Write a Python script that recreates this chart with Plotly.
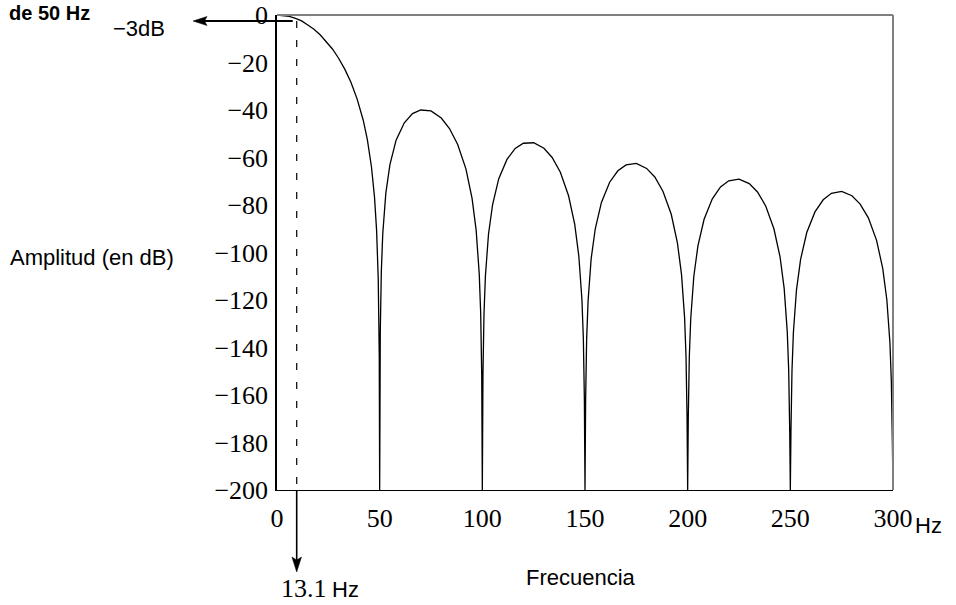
import plotly.graph_objects as go

# ---- data (frequency in Hz, amplitude in dB) ----
main_lobe_f = [0, 3, 6, 9, 12, 15, 18, 21, 24, 27, 30, 33, 36, 39, 42, 44, 46, 47.5, 48.5, 49.3, 49.8]
main_lobe_db = [0, -0.2, -0.6, -1.4, -2.5, -4.2, -6.0, -8.3, -11.1, -14.3, -18.2, -22.8, -28.3, -35.3, -44.3, -52.5, -63.9, -76.8, -90.6, -110.9, -143.8]

lobe1_f = [50.3, 50.8, 51.5, 53, 55, 58, 62, 66, 70, 75, 80, 84, 88, 92, 95, 97, 98.5, 99.2, 99.7]
lobe1_db = [-133.5, -108.2, -92.2, -75.0, -63.0, -52.7, -45.4, -41.5, -40.0, -40.4, -43.4, -47.8, -54.5, -64.8, -77.2, -90.7, -109.1, -125.6, -151.4]

lobe2_f = [100.3, 100.8, 101.5, 103, 105, 108, 112, 116, 120, 125, 130, 134, 138, 142, 145, 147, 148.5, 149.2, 149.7]
lobe2_db = [-151.5, -126.0, -109.9, -92.3, -79.8, -68.9, -60.8, -56.2, -54.0, -53.8, -56.1, -60.0, -66.2, -76.1, -88.2, -101.6, -119.8, -136.3, -162.0]

lobe3_f = [150.3, 150.8, 151.5, 153, 155, 158, 162, 166, 170, 175, 180, 184, 188, 192, 195, 197, 198.5, 199.2, 199.7]
lobe3_db = [-162.1, -136.5, -120.4, -102.6, -90.0, -78.9, -70.4, -65.6, -63.1, -62.5, -64.6, -68.2, -74.3, -83.9, -95.9, -109.2, -127.4, -143.8, -169.5]

lobe4_f = [200.3, 200.8, 201.5, 203, 205, 208, 212, 216, 220, 225, 230, 234, 238, 242, 245, 247, 248.5, 249.2, 249.7]
lobe4_db = [-169.5, -144.0, -127.8, -110.0, -97.2, -86.0, -77.4, -72.4, -69.8, -69.1, -71.0, -74.5, -80.4, -90.0, -101.9, -115.1, -133.3, -149.6, -175.3]

lobe5_f = [250.3, 250.8, 251.5, 253, 255, 258, 262, 266, 270, 275, 280, 284, 288, 292, 295, 297, 298.5, 299.2, 299.7]
lobe5_db = [-175.4, -149.8, -133.6, -115.7, -102.9, -91.6, -82.9, -77.8, -75.1, -74.3, -76.1, -79.6, -85.4, -94.9, -106.7, -119.9, -138.0, -154.4, -180.0]

null_f = [50, 100, 150, 200, 250, 300]
null_db = [-200, -200, -200, -200, -200, -200]

x_tick_vals = [0, 50, 100, 150, 200, 250, 300]
x_tick_text = ["0", "50", "100", "150", "200", "250", "300"]
y_tick_vals = [-200, -180, -160, -140, -120, -100, -80, -60, -40, -20, 0]
y_tick_text = ["\u2212200", "\u2212180", "\u2212160", "\u2212140", "\u2212120", "\u2212100",
               "\u221280", "\u221260", "\u221240", "\u221220", "0"]

cutoff_label_value = "13.1"
cutoff_marker_f = 9.6      # where the dashed marker is drawn in the picture
cutoff_marker_db = -2.5

# ---- assemble the curve ----
lobes = [(lobe1_f, lobe1_db), (lobe2_f, lobe2_db), (lobe3_f, lobe3_db),
         (lobe4_f, lobe4_db), (lobe5_f, lobe5_db)]
xs = list(main_lobe_f)
ys = list(main_lobe_db)
for i, (lf, ld) in enumerate(lobes):
    xs.append(null_f[i]); ys.append(null_db[i])
    xs += lf; ys += ld
xs.append(null_f[-1]); ys.append(null_db[-1])

# ---- layout geometry ----
W, H = 956, 605
L, R, T, B = 277, 63, 15, 115
PW, PH = W - L - R, H - T - B


def px(x):
    return (x - L) / PW


def py(y):
    return (H - B - y) / PH


fig = go.Figure()
fig.add_trace(go.Scatter(x=xs, y=ys, mode="lines",
                         line=dict(color="black", width=1.3),
                         hoverinfo="skip"))

serif = "Liberation Serif, Times New Roman, serif"
sans = "Liberation Sans, Arial, sans-serif"

fig.update_layout(
    width=W, height=H,
    margin=dict(l=L, r=R, t=T, b=B, autoexpand=False),
    plot_bgcolor="white", paper_bgcolor="white",
    showlegend=False,
    xaxis=dict(range=[0, 300], tickvals=x_tick_vals, ticktext=x_tick_text,
               showgrid=False, zeroline=False, showline=True, automargin=False,
               linecolor="black", linewidth=1.3, ticks="",
               ticklabelstandoff=5,
               tickfont=dict(family=serif, size=26, color="black")),
    yaxis=dict(range=[-200, 0], tickvals=y_tick_vals, ticktext=y_tick_text,
               showgrid=False, zeroline=False, showline=True, automargin=False,
               linecolor="black", linewidth=1.5, ticks="",
               ticklabelstandoff=2,
               tickfont=dict(family=serif, size=26, color="black")),
)

shapes = []
# gray top and right frame
shapes.append(dict(type="line", xref="paper", yref="paper", x0=0, x1=1, y0=1, y1=1,
                   line=dict(color="#808080", width=2)))
shapes.append(dict(type="line", xref="paper", yref="paper", x0=1, x1=1, y0=0, y1=1,
                   line=dict(color="#808080", width=2)))
# dashed marker line
shapes.append(dict(type="line", xref="x", yref="y",
                   x0=cutoff_marker_f, x1=cutoff_marker_f, y0=cutoff_marker_db, y1=-200,
                   line=dict(color="black", width=1.2, dash="7px,12px")))
# -3 dB arrow (shaft + head)
ya = 21
shapes.append(dict(type="line", xref="paper", yref="paper",
                   x0=px(292.7), x1=px(204), y0=py(ya), y1=py(ya),
                   line=dict(color="black", width=1.8)))
shapes.append(dict(type="path", xref="paper", yref="paper",
                   path=f"M {px(193)},{py(ya)} L {px(207)},{py(ya-4.5)} L {px(204.5)},{py(ya)} L {px(207)},{py(ya+4.5)} Z",
                   fillcolor="black", line=dict(color="black", width=0.5)))
# downward arrow below the axis
xv = 296.7
shapes.append(dict(type="line", xref="paper", yref="paper",
                   x0=px(xv), x1=px(xv), y0=py(490), y1=py(560),
                   line=dict(color="black", width=1.6)))
shapes.append(dict(type="path", xref="paper", yref="paper",
                   path=f"M {px(xv)},{py(572)} L {px(xv-4.8)},{py(557)} L {px(xv)},{py(560)} L {px(xv+4.8)},{py(557)} Z",
                   fillcolor="black", line=dict(color="black", width=0.5)))
fig.update_layout(shapes=shapes)

ann = []
ann.append(dict(text="<b>de 50 Hz</b>", xref="paper", yref="paper",
                x=px(92), y=py(13), xanchor="right", yanchor="middle", showarrow=False,
                font=dict(family=sans, size=20, color="black")))
ann.append(dict(text="\u22123dB", xref="paper", yref="paper",
                x=px(139), y=py(28), xanchor="center", yanchor="middle", showarrow=False,
                font=dict(family=sans, size=22, color="black")))
ann.append(dict(text="Amplitud (en dB)", xref="paper", yref="paper",
                x=px(92), y=py(257), xanchor="center", yanchor="middle", showarrow=False,
                font=dict(family=sans, size=22, color="black")))
ann.append(dict(text="Frecuencia", xref="paper", yref="paper",
                x=px(581), y=py(577), xanchor="center", yanchor="middle", showarrow=False,
                font=dict(family=sans, size=22, color="black")))
ann.append(dict(text="Hz", xref="paper", yref="paper",
                x=px(928.5), y=py(525), xanchor="center", yanchor="middle", showarrow=False,
                font=dict(family=sans, size=22, color="black")))
ann.append(dict(text=cutoff_label_value, xref="paper", yref="paper",
                x=px(279), y=py(588), xanchor="left", yanchor="middle", showarrow=False,
                font=dict(family=serif, size=26, color="black")))
ann.append(dict(text="Hz", xref="paper", yref="paper",
                x=px(345.5), y=py(589), xanchor="center", yanchor="middle", showarrow=False,
                font=dict(family=sans, size=22, color="black")))
fig.update_layout(annotations=ann)

fig.write_html("out.html")
